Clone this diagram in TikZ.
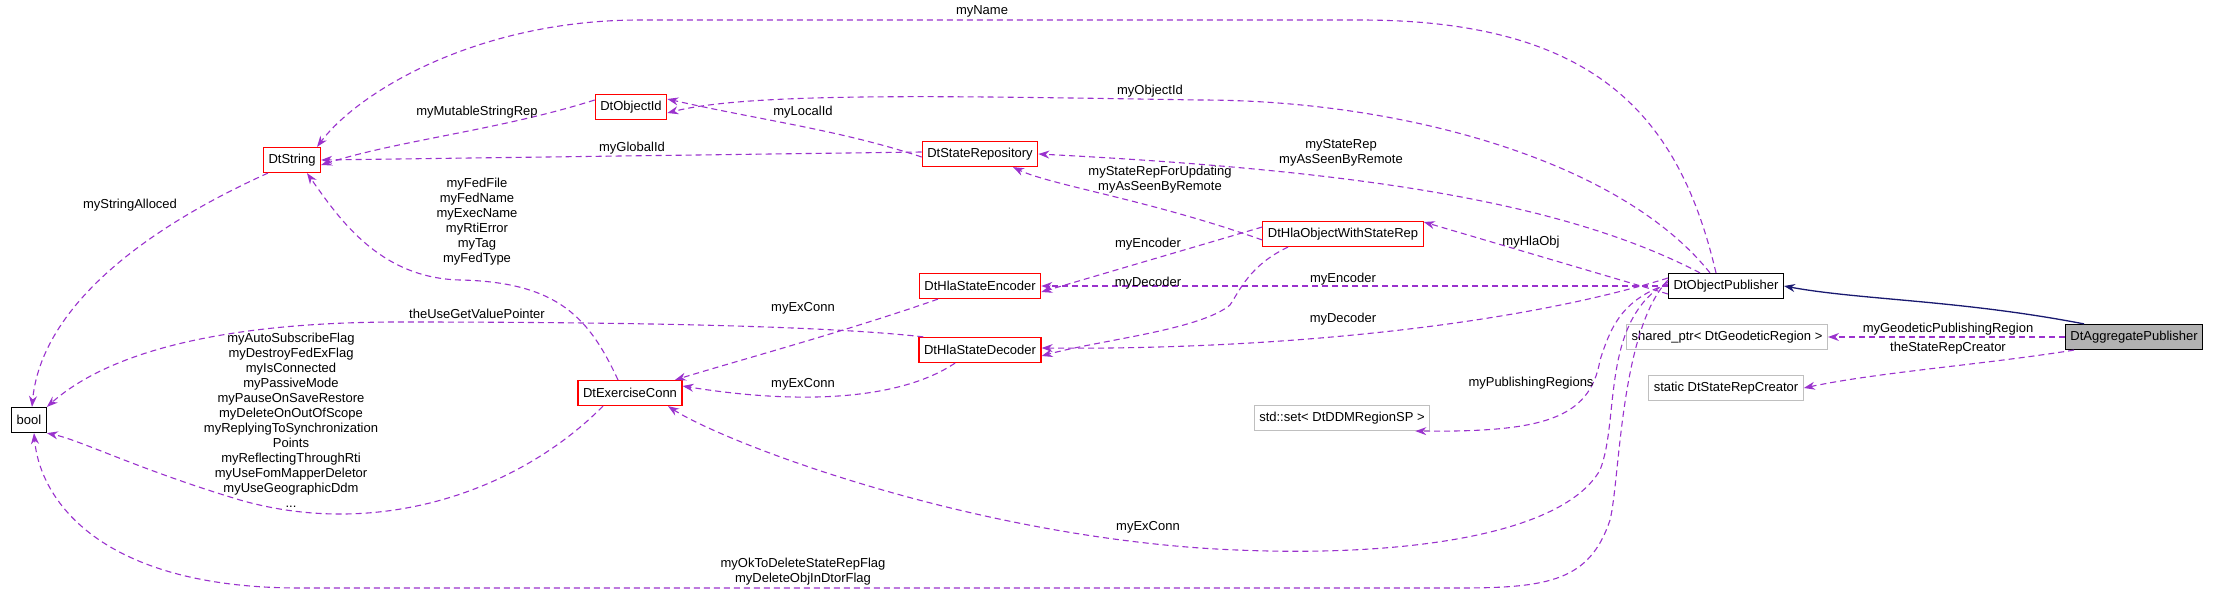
\documentclass[tikz,border=0pt]{standalone}
\usepackage{fontspec}
\setmainfont{Liberation Sans}
\usetikzlibrary{arrows.meta}
\definecolor{linkc}{HTML}{9A32CD}
\definecolor{inhc}{HTML}{191970}
\begin{document}
\begin{tikzpicture}[x = 1pt, y = -1pt, % pixel grid, y down
    > = {Stealth[length = 11pt, width = 8pt]},
    box/.style = {draw, rectangle, inner xsep = 5pt, minimum height = 25pt,
        font = \fontsize{13}{15}\selectfont, line width = 1.2pt},
    cls/.style = {box, draw = red},
    ext/.style = {box, draw = black!25},
    plain/.style = {box, draw = black},
    link/.style = {->, linkc, dashed, line width = 1.1pt, dash pattern = on 6pt off 4pt},
    lbl/.style = {font = \fontsize{13}{15}\selectfont, align = center, inner sep = 0pt}
    ]
    \useasboundingbox (0,0) rectangle (2213,594);

    % classes
    \node[plain] (boolean) at (29,420) {bool};
    \node[cls] (string) at (292,160) {DtString};
    \node[cls] (objid) at (631,107) {DtObjectId};
    \node[cls] (staterep) at (980,154) {DtStateRepository};
    \node[cls] (hlaobj) at (1343,234) {DtHlaObjectWithStateRep};
    \node[cls] (encoder) at (980,286) {DtHlaStateEncoder};
    \node[cls] (decoder) at (980,350) {DtHlaStateDecoder};
    \node[cls] (exconn) at (630,393) {DtExerciseConn};
    \node[plain] (opub) at (1726,286) {DtObjectPublisher};
    \node[ext] (sharedptr) at (1727,337) {shared\_ptr< DtGeodeticRegion >};
    \node[ext] (creator) at (1726,388) {static DtStateRepCreator};
    \node[ext] (regionset) at (1342,418) {std::set< DtDDMRegionSP >};
    \node[box, fill = black!30] (aggpub) at (2134,337) {DtAggregatePublisher};

    % inheritance
    \draw[->, inhc, line width = 1.3pt] ([xshift = -50pt]aggpub.north)
        .. controls (1960,300) and (1860,300) .. (opub.east);

    % members of DtAggregatePublisher
    \draw[link] (aggpub.west) -- (sharedptr.east);
    \draw[link] ([xshift = -60pt]aggpub.south) .. controls (1980,365) and (1880,372) .. (creator.east);
    \node[lbl] (l_geo) at (1948,329) {myGeodeticPublishingRegion};
    \node[lbl] (l_creator) at (1948,348) {theStateRepCreator};

    % members of DtObjectPublisher
    \draw[link] ([xshift = -10pt]opub.north) .. controls (1680,120) and (1600,20) .. (1360,20)
        -- (640,20) .. controls (480,20) and (360,90) .. ([xshift = 25pt]string.north);
    \draw[link] ([xshift = -16pt]opub.north) .. controls (1620,160) and (1400,100) .. (1200,100)
        .. controls (950,96) and (750,92) .. ([yshift = -6pt]objid.east);
    \draw[link] ([xshift = -26pt]opub.north) .. controls (1560,200) and (1350,170) .. (staterep.east);
    \draw[link] ([yshift = -8pt]opub.west) -- ([yshift = 12pt]hlaobj.east);
    \draw[link] (opub.west) -- (encoder.east);
    \draw[link] ([yshift = 8pt]opub.west) .. controls (1500,330) and (1250,350) .. ([yshift = 2pt]decoder.east);
    \draw[link] ([yshift = 2pt]opub.west) .. controls (1620,300) and (1610,330) .. (1600,360)
        .. controls (1590,420) and (1540,432) .. ([xshift = -15pt]regionset.south east);
    \draw[link] ([yshift = 4pt]opub.west) .. controls (1600,320) and (1620,420) .. (1600,470)
        .. controls (1560,540) and (1380,560) .. (1200,548)
        .. controls (950,530) and (720,440) .. ([xshift = 38pt]exconn.south);
    \draw[link] ([yshift = 6pt]opub.west) .. controls (1620,330) and (1620,480) .. (1610,520)
        .. controls (1590,580) and (1550,588) .. (1460,588) -- (300,588)
        .. controls (100,588) and (40,500) .. ([xshift = 5pt]boolean.south);
    \node[lbl] (l_name) at (982,11) {myName};
    \node[lbl] (l_objid) at (1150,91) {myObjectId};
    \node[lbl] (l_staterep) at (1341,153) {myStateRep\\myAsSeenByRemote};
    \node[lbl] (l_hlaobj) at (1531,242) {myHlaObj};
    \node[lbl] (l_enc) at (1343,279) {myEncoder};
    \node[lbl] (l_dec) at (1343,319) {myDecoder};
    \node[lbl] (l_regions) at (1531,383) {myPublishingRegions};
    \node[lbl] (l_exconn) at (1148,527) {myExConn};
    \node[lbl] (l_flags) at (803,572) {myOkToDeleteStateRepFlag\\myDeleteObjInDtorFlag};

    % members of DtHlaObjectWithStateRep
    \draw[link] ([yshift = -6pt]hlaobj.west) .. controls (1150,200) and (1050,185) .. ([xshift = 33pt]staterep.south);
    \draw[link] ([yshift = 7pt]hlaobj.west) -- ([yshift = -6pt]encoder.east);
    \draw[link] ([xshift = -55pt]hlaobj.south) .. controls (1250,265) and (1240,290) .. (1230,305)
        .. controls (1200,330) and (1100,340) .. ([yshift = -6pt]decoder.east);
    \node[lbl] (l_srfu) at (1160,180) {myStateRepForUpdating\\myAsSeenByRemote};
    \node[lbl] (l_henc) at (1148,244) {myEncoder};
    \node[lbl] (l_hdec) at (1148,283) {myDecoder};

    % members of DtStateRepository and DtObjectId
    \draw[link] ([yshift = -3pt]staterep.west) .. controls (840,130) and (760,120) .. ([yshift = 8pt]objid.east);
    \draw[link] ([yshift = 2pt]staterep.west) -- (string.east);
    \draw[link] ([yshift = 7pt]objid.west) .. controls (500,130) and (400,140) .. ([yshift = -5pt]string.east);
    \node[lbl] (l_local) at (803,112) {myLocalId};
    \node[lbl] (l_global) at (632,148) {myGlobalId};
    \node[lbl] (l_mutable) at (477,112) {myMutableStringRep};

    % members of DtString
    \draw[link] ([xshift = 5pt]string.south west) .. controls (120,240) and (40,320) .. ([xshift = 3pt]boolean.north);
    \node[lbl] (l_alloc) at (130,205) {myStringAlloced};

    % members of the codecs and DtExerciseConn
    \draw[link] ([xshift = 5pt]decoder.north west) .. controls (820,325) and (600,322) .. (400,322)
        .. controls (200,322) and (100,360) .. (boolean.north east);
    \draw[link] ([xshift = -42pt]encoder.south) .. controls (850,330) and (740,360) .. ([xshift = 45pt]exconn.north);
    \draw[link] ([xshift = -25pt]decoder.south) .. controls (900,400) and (800,405) .. ([yshift = 7pt]exconn.east);
    \draw[link] ([xshift = -12pt]exconn.north) .. controls (590,320) and (560,282) .. (460,280)
        .. controls (380,278) and (340,220) .. ([xshift = 15pt]string.south);
    \draw[link] ([xshift = -27pt]exconn.south) .. controls (520,490) and (380,540) .. (240,500)
        .. controls (140,470) and (80,440) .. (boolean.south east);
    \node[lbl] (l_codec) at (477,314) {theUseGetValuePointer};
    \node[lbl] (l_encx) at (803,308) {myExConn};
    \node[lbl] (l_decx) at (803,384) {myExConn};
    \node[lbl] (l_fed) at (477,222) {myFedFile\\myFedName\\myExecName\\myRtiError\\myTag\\myFedType};
    \node[lbl] (l_connflags) at (291,420) {myAutoSubscribeFlag\\myDestroyFedExFlag\\myIsConnected\\myPassiveMode\\myPauseOnSaveRestore\\myDeleteOnOutOfScope\\myReplyingToSynchronization\\Points\\myReflectingThroughRti\\myUseFomMapperDeletor\\myUseGeographicDdm\\...};
\end{tikzpicture}
\end{document}
